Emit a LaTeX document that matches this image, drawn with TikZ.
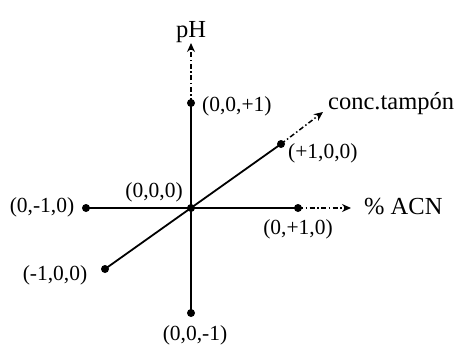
\documentclass[tikz,border=0pt]{standalone}
\usepackage{fontspec}
\setmainfont{Liberation Serif}
\usetikzlibrary{arrows.meta}
\begin{document}
\begin{tikzpicture}[x=1pt,y=-1pt,
  dotnode/.style={circle,fill=black,inner sep=0pt,minimum size=8pt},
  axisline/.style={line width=1.8pt},
  extline/.style={line width=1.5pt,dash pattern=on 5pt off 2.5pt on 1.5pt off 2.5pt,
    -{Stealth[length=9pt,width=8pt,inset=3pt]}},
  ptlabel/.style={inner sep=0pt,font=\fontsize{21.5}{24}\selectfont},
  axlabel/.style={inner sep=0pt,font=\fontsize{24.5}{28}\selectfont}]
\useasboundingbox (0,0) rectangle (454,345);
% points
\node[dotnode] (O) at (191,208) {};
\node[dotnode] (zp) at (191,103) {};
\node[dotnode] (zm) at (191,313) {};
\node[dotnode] (ym) at (86,208) {};
\node[dotnode] (yp) at (298,208) {};
\node[dotnode] (xp) at (281,144) {};
\node[dotnode] (xm) at (105,269) {};
% arrow ends
\coordinate (ztip) at (191,43);
\coordinate (ytip) at (351,208);
\coordinate (xtip) at (323,112);
% axes
\draw[axisline] (zm.center) -- (zp.center);
\draw[axisline] (ym.center) -- (yp.center);
\draw[axisline] (xm.center) -- (xp.center);
\draw[extline] (zp.center) -- (ztip);
\draw[extline] (yp.center) -- (ytip);
\draw[extline] (xp.center) -- (xtip);
% labels
\node[axlabel] (lpH) at (191,32) {pH};
\node[axlabel,anchor=west] (lACN) at (364,207) {\% ACN};
\node[axlabel,anchor=west] (lbuf) at (328,104) {conc.tampón};
\node[ptlabel,anchor=west] (lzp) at (202,106) {(0,0,+1)};
\node[ptlabel] (lzm) at (195,335) {(0,0,-1)};
\node[ptlabel] (lym) at (42,207) {(0,-1,0)};
\node[ptlabel] (lyp) at (298,229) {(0,+1,0)};
\node[ptlabel,anchor=west] (lxp) at (288,153) {(+1,0,0)};
\node[ptlabel] (lxm) at (55,275) {(-1,0,0)};
\node[ptlabel] (lO) at (154,192) {(0,0,0)};
\end{tikzpicture}
\end{document}
